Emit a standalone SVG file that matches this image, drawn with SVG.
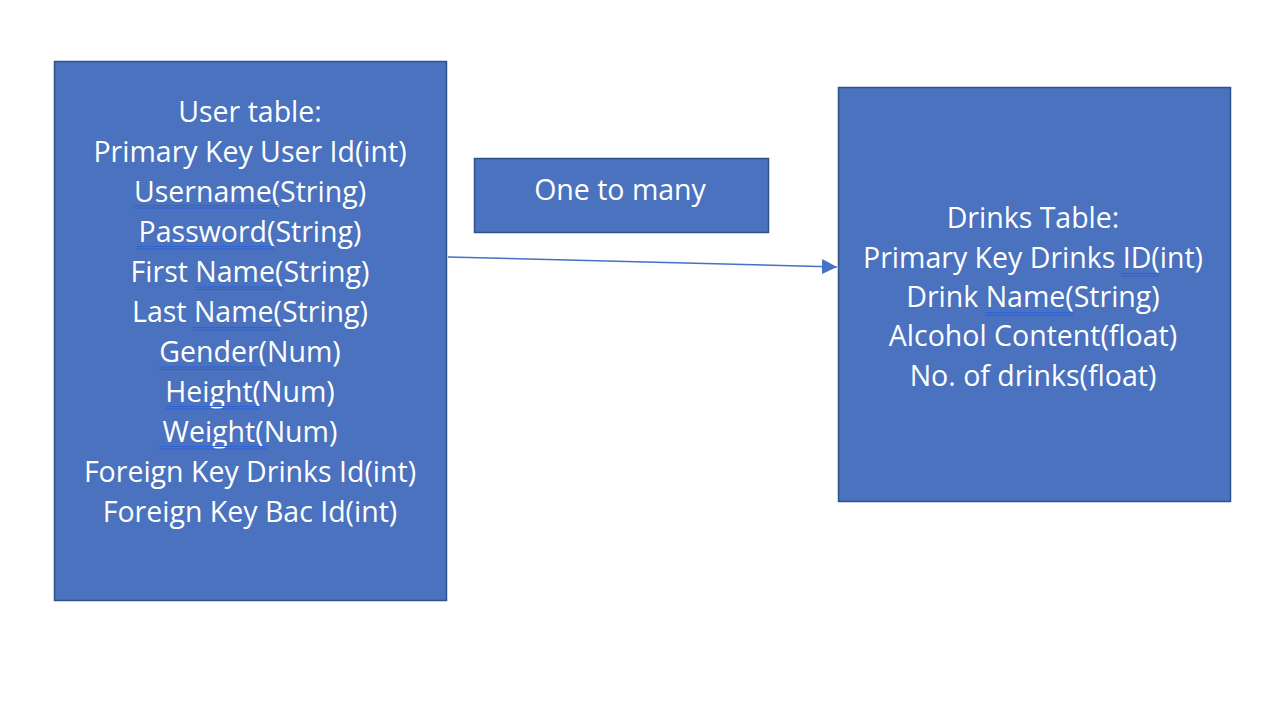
<svg xmlns="http://www.w3.org/2000/svg" width="1288" height="722" viewBox="0 0 1288 722">
<style>
.box{fill:#4A72BE;stroke:#2F528F;stroke-width:1.5}
.t{font-family:"Open Sans","Liberation Sans",sans-serif;font-size:28.5px;font-weight:500;fill:#FFFFFF;text-anchor:middle}
.sq{stroke:#2F62D6;stroke-width:1.2;fill:none}
.conn{stroke:#4472C4;stroke-width:1.5;fill:none}
</style>
<defs>
<marker id="ah" viewBox="0 0 10 10" refX="10" refY="5" markerWidth="15" markerHeight="15" markerUnits="userSpaceOnUse" orient="auto">
<path d="M0,0 L10,5 L0,10 z" fill="#4472C4"/>
</marker>
</defs>
<rect width="1288" height="722" fill="#FFFFFF"/>
<g id="connectors">
<line class="conn" x1="448" y1="257" x2="837" y2="267" marker-end="url(#ah)"/>
</g>
<g id="user-table">
<rect class="box" x="54.5" y="61.5" width="392" height="539"/>
<text class="t" x="250" y="122">User table:</text>
<text class="t" x="250" y="162">Primary Key User Id(int)</text>
<text class="t" x="250" y="202"><tspan>Username(</tspan>String)</text>
<text class="t" x="250" y="242"><tspan>Password(</tspan>String)</text>
<text class="t" x="250" y="282">First <tspan>Name(</tspan>String)</text>
<text class="t" x="250" y="322">Last <tspan>Name(</tspan>String)</text>
<text class="t" x="250" y="362"><tspan>Gender(</tspan>Num)</text>
<text class="t" x="250" y="402"><tspan>Height(</tspan>Num)</text>
<text class="t" x="250" y="442"><tspan>Weight(</tspan>Num)</text>
<text class="t" x="250" y="482">Foreign Key Drinks Id(int)</text>
<text class="t" x="250" y="522">Foreign Key Bac Id(int)</text>
<path class="sq" d="M133,205.5H278M133,208H278M137,246.5H274M137,249H274M195,287H283M195,289.5H283M193,327.5H281M193,330H281M159,367H266M159,369.5H266M165,406.5H261M165,409H261M159,446.5H267M159,449H267"/>
</g>
<g id="relationship">
<rect class="box" x="474.5" y="158.5" width="294" height="74"/>
<text class="t" x="620" y="200">One to many</text>
</g>
<g id="drinks-table">
<rect class="box" x="838.5" y="87.5" width="392" height="414"/>
<text class="t" x="1033" y="228">Drinks Table:</text>
<text class="t" x="1033" y="268">Primary Key Drinks <tspan>ID(</tspan>int)</text>
<text class="t" x="1033" y="307">Drink <tspan>Name(</tspan>String)</text>
<text class="t" x="1033" y="346">Alcohol Content(float)</text>
<text class="t" x="1033" y="386">No. of drinks(float)</text>
<path class="sq" d="M1121,273.5H1159M1121,276H1159M985,312.5H1073M985,315H1073"/>
</g>
</svg>
